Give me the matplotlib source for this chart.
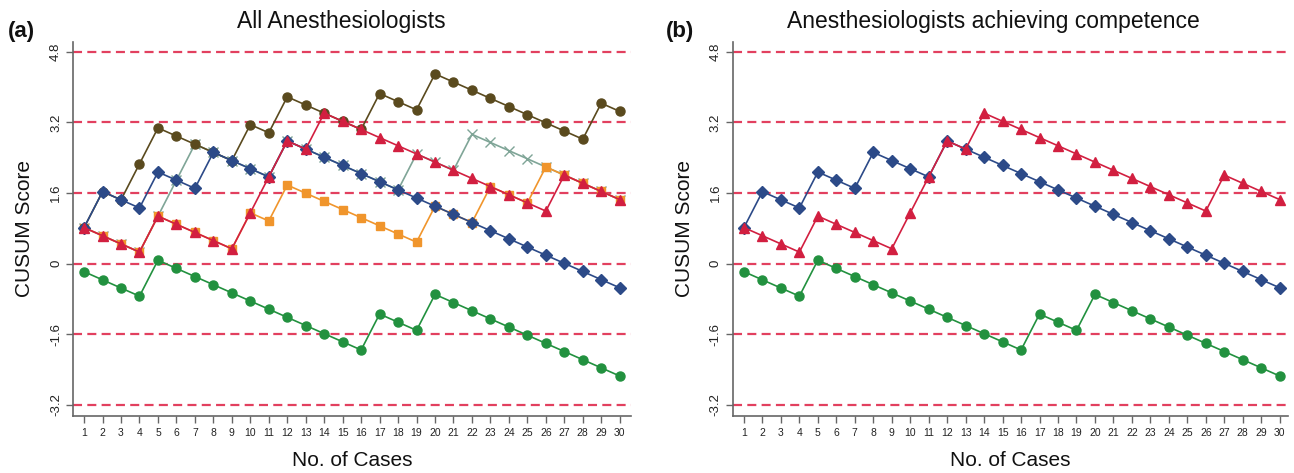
import matplotlib
matplotlib.use("Agg")
import matplotlib.pyplot as plt

plt.rcParams['font.family'] = ['Liberation Sans', 'DejaVu Sans']
plt.rcParams['lines.scale_dashes'] = False

cases = list(range(1, 31))
x_tick_labels = [str(c) for c in cases]
y_ticks = [-3.2, -1.6, 0, 1.6, 3.2, 4.8]
y_tick_labels = ['-3.2', '-1.6', '0', '1.6', '3.2', '4.8']
limit_lines = [4.8, 3.2, 1.6, 0, -1.6, -3.2]

# CUSUM scores per anesthesiologist
brown = [0.815, 1.63, 1.445, 2.26, 3.075, 2.89, 2.705, 2.52, 2.335, 3.15,
         2.965, 3.78, 3.595, 3.41, 3.225, 3.04, 3.855, 3.67, 3.485, 4.30,
         4.115, 3.93, 3.745, 3.56, 3.375, 3.19, 3.005, 2.82, 3.635, 3.45]
teal = [0.815, 0.63, 0.445, 0.26, 1.075, 1.89, 2.705, 2.52, 2.335, 2.15,
        1.965, 2.78, 2.595, 2.41, 2.225, 2.04, 1.855, 1.67, 2.485, 2.30,
        2.115, 2.93, 2.745, 2.56, 2.375, 2.19, 2.005, 1.82, 1.635, 1.45]
blue = [0.815, 1.63, 1.445, 1.26, 2.075, 1.89, 1.705, 2.52, 2.335, 2.15,
        1.965, 2.78, 2.595, 2.41, 2.225, 2.04, 1.855, 1.67, 1.485, 1.30,
        1.115, 0.93, 0.745, 0.56, 0.375, 0.19, 0.005, -0.18, -0.365, -0.55]
red = [0.815, 0.63, 0.445, 0.26, 1.075, 0.89, 0.705, 0.52, 0.335, 1.15,
       1.965, 2.78, 2.595, 3.41, 3.225, 3.04, 2.855, 2.67, 2.485, 2.30,
       2.115, 1.93, 1.745, 1.56, 1.375, 1.19, 2.005, 1.82, 1.635, 1.45]
orange = [0.815, 0.63, 0.445, 0.26, 1.075, 0.89, 0.705, 0.52, 0.335, 1.15,
          0.965, 1.78, 1.595, 1.41, 1.225, 1.04, 0.855, 0.67, 0.485, 1.30,
          1.115, 0.93, 1.745, 1.56, 1.375, 2.19, 2.005, 1.82, 1.635, 1.45]
green = [-0.185, -0.37, -0.555, -0.74, 0.075, -0.11, -0.295, -0.48, -0.665, -0.85,
         -1.035, -1.22, -1.405, -1.59, -1.775, -1.96, -1.145, -1.33, -1.515, -0.70,
         -0.885, -1.07, -1.255, -1.44, -1.625, -1.81, -1.995, -2.18, -2.365, -2.55]

C_BROWN = '#5a4a1e'
C_TEAL = '#7fa597'
C_BLUE = '#2c4a88'
C_RED = '#d21f40'
C_ORANGE = '#f0952c'
C_GREEN = '#22913f'
C_LIMIT = '#e2405f'
C_AXIS = '#666666'

W, H = 1294, 473
fig = plt.figure(figsize=(W / 100, H / 100), dpi=100)

ax_bottom = 415.7
ax_top = 41.7
ax1 = fig.add_axes([73 / W, 1 - ax_bottom / H, 557.8 / W, (ax_bottom - ax_top) / H])
ax2 = fig.add_axes([732.7 / W, 1 - ax_bottom / H, 555.3 / W, (ax_bottom - ax_top) / H])


def style_axes(ax, xlim):
    ax.set_xlim(*xlim)
    ax.set_ylim(-3.45, 5.03)
    for s in ['top', 'right']:
        ax.spines[s].set_visible(False)
    for s in ['left', 'bottom']:
        ax.spines[s].set_color(C_AXIS)
        ax.spines[s].set_linewidth(1.2)
    for y in limit_lines:
        ax.axhline(y, color=C_LIMIT, lw=1.6, dashes=(6.5, 3.8), zorder=1)
    ax.set_xticks(cases)
    ax.set_xticklabels(x_tick_labels, fontsize=7.5, color='#222222')
    ax.set_yticks(y_ticks)
    ax.set_yticklabels(y_tick_labels, fontsize=9.5, color='#222222',
                       rotation=90, va='center')
    ax.tick_params(axis='x', direction='out', length=4.8, width=1.0,
                   color=C_AXIS, pad=4)
    ax.tick_params(axis='y', direction='out', length=4.8, width=1.0,
                   color=C_AXIS, pad=3)


def plot_series(ax, y, color, marker, ms, z):
    ax.plot(cases, y, color=color, lw=1.2, marker=marker, ms=ms,
            mfc=color, mec=color, mew=1.0, zorder=z, clip_on=False)


style_axes(ax1, (0.4, 30.6))
style_axes(ax2, (0.39, 30.45))

plot_series(ax1, teal, C_TEAL, 'x', 6.5, 2)
plot_series(ax1, orange, C_ORANGE, 's', 6, 3)
plot_series(ax1, brown, C_BROWN, 'o', 6.5, 4)
plot_series(ax1, blue, C_BLUE, 'D', 6.2, 5)
plot_series(ax1, red, C_RED, '^', 7.3, 6)
plot_series(ax1, green, C_GREEN, 'o', 6.5, 7)

plot_series(ax2, blue, C_BLUE, 'D', 6.2, 5)
plot_series(ax2, red, C_RED, '^', 7.3, 6)
plot_series(ax2, green, C_GREEN, 'o', 6.5, 7)

# titles, panel letters and axis labels
fig.text(341.7 / W, 1 - 28.3 / H, 'All Anesthesiologists', fontsize=16.5,
         ha='center', va='baseline', color='#111111')
fig.text(993 / W, 1 - 28.3 / H, 'Anesthesiologists achieving competence',
         fontsize=16.5, ha='center', va='baseline', color='#111111')
fig.text(8 / W, 1 - 37.5 / H, '(a)', fontsize=16, fontweight='bold',
         ha='left', va='baseline', color='#111111')
fig.text(666 / W, 1 - 37.5 / H, '(b)', fontsize=16, fontweight='bold',
         ha='left', va='baseline', color='#111111')

for x_lab in (25, 685):
    fig.text(x_lab / W, 1 - 228.7 / H, 'CUSUM Score', fontsize=15,
             rotation=90, ha='center', va='center', color='#111111')
for x_lab in (352, 1010):
    fig.text(x_lab / W, 1 - 460 / H, 'No. of Cases', fontsize=15,
             ha='center', va='center', color='#111111')

fig.savefig('out.png', dpi=100, facecolor='white')
